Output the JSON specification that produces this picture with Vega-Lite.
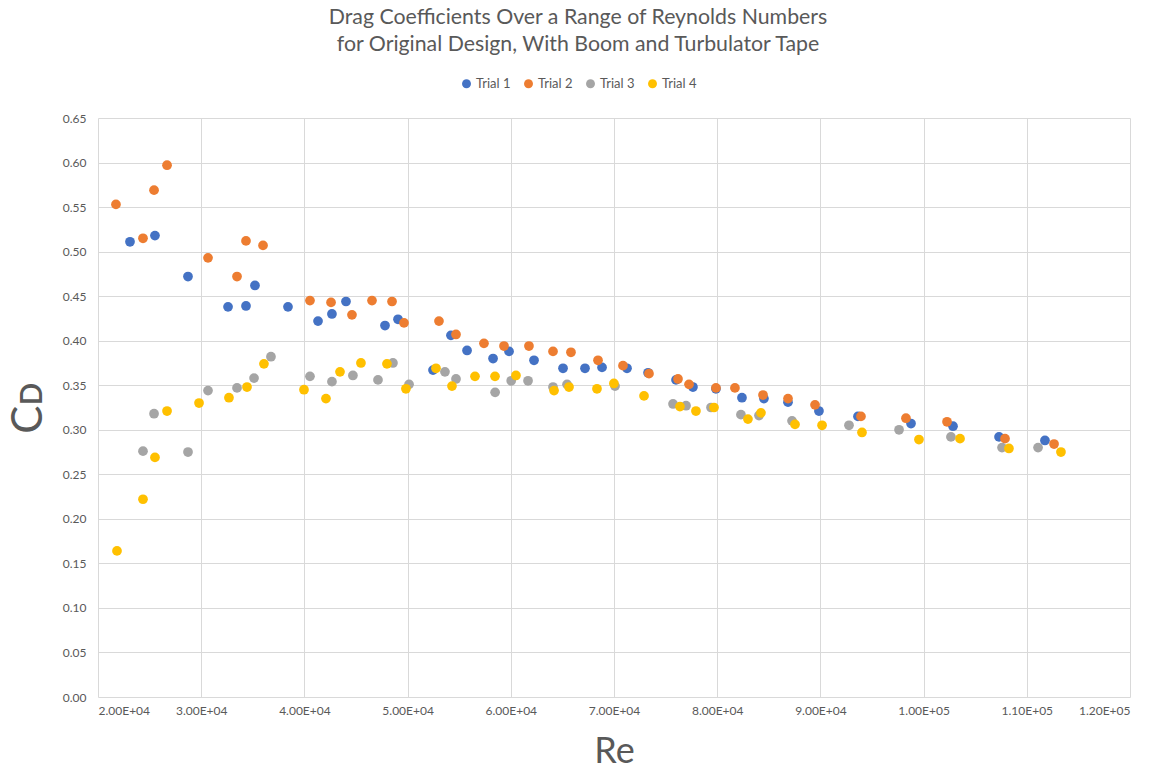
{
  "$schema": "https://vega.github.io/schema/vega-lite/v6.json",
  "width": 1032,
  "height": 579,
  "autosize": "none",
  "padding": {"left": 98, "top": 118, "right": 36, "bottom": 78},
  "background": "white",
  "title": {
    "text": ["Drag Coefficients Over a Range of Reynolds Numbers", "for Original Design, With Boom and Turbulator Tape"],
    "font": "Lato",
    "fontSize": 21.3,
    "fontWeight": "normal",
    "color": "#595959",
    "lineHeight": 27,
    "anchor": "middle",
    "dx": -36,
    "offset": 22
  },
  "config": {
    "view": {"stroke": null},
    "font": "Lato"
  },
  "data": {
    "values": [
      {"trial": "Trial 1", "re": 23100, "cd": 0.511},
      {"trial": "Trial 1", "re": 25520, "cd": 0.518},
      {"trial": "Trial 1", "re": 28720, "cd": 0.472},
      {"trial": "Trial 1", "re": 32600, "cd": 0.438},
      {"trial": "Trial 1", "re": 34340, "cd": 0.439},
      {"trial": "Trial 1", "re": 35210, "cd": 0.462},
      {"trial": "Trial 1", "re": 38410, "cd": 0.438},
      {"trial": "Trial 1", "re": 41320, "cd": 0.422},
      {"trial": "Trial 1", "re": 42670, "cd": 0.430},
      {"trial": "Trial 1", "re": 44030, "cd": 0.444},
      {"trial": "Trial 1", "re": 47810, "cd": 0.417},
      {"trial": "Trial 1", "re": 49070, "cd": 0.424},
      {"trial": "Trial 1", "re": 52460, "cd": 0.367},
      {"trial": "Trial 1", "re": 54200, "cd": 0.406},
      {"trial": "Trial 1", "re": 55760, "cd": 0.389},
      {"trial": "Trial 1", "re": 58280, "cd": 0.380},
      {"trial": "Trial 1", "re": 59830, "cd": 0.388},
      {"trial": "Trial 1", "re": 62250, "cd": 0.378},
      {"trial": "Trial 1", "re": 65060, "cd": 0.369},
      {"trial": "Trial 1", "re": 67190, "cd": 0.369},
      {"trial": "Trial 1", "re": 68840, "cd": 0.370},
      {"trial": "Trial 1", "re": 71260, "cd": 0.369},
      {"trial": "Trial 1", "re": 73300, "cd": 0.364},
      {"trial": "Trial 1", "re": 76010, "cd": 0.356},
      {"trial": "Trial 1", "re": 77650, "cd": 0.348},
      {"trial": "Trial 1", "re": 79880, "cd": 0.346},
      {"trial": "Trial 1", "re": 82400, "cd": 0.336},
      {"trial": "Trial 1", "re": 84530, "cd": 0.335},
      {"trial": "Trial 1", "re": 86860, "cd": 0.331},
      {"trial": "Trial 1", "re": 89860, "cd": 0.321},
      {"trial": "Trial 1", "re": 93640, "cd": 0.315},
      {"trial": "Trial 1", "re": 98780, "cd": 0.307},
      {"trial": "Trial 1", "re": 102850, "cd": 0.304},
      {"trial": "Trial 1", "re": 107310, "cd": 0.292},
      {"trial": "Trial 1", "re": 111760, "cd": 0.288},
      {"trial": "Trial 2", "re": 21740, "cd": 0.553},
      {"trial": "Trial 2", "re": 24360, "cd": 0.515},
      {"trial": "Trial 2", "re": 25430, "cd": 0.569},
      {"trial": "Trial 2", "re": 26690, "cd": 0.597},
      {"trial": "Trial 2", "re": 30660, "cd": 0.493},
      {"trial": "Trial 2", "re": 33470, "cd": 0.472},
      {"trial": "Trial 2", "re": 34340, "cd": 0.512},
      {"trial": "Trial 2", "re": 35990, "cd": 0.507},
      {"trial": "Trial 2", "re": 40540, "cd": 0.445},
      {"trial": "Trial 2", "re": 42580, "cd": 0.443},
      {"trial": "Trial 2", "re": 44610, "cd": 0.429},
      {"trial": "Trial 2", "re": 46550, "cd": 0.445},
      {"trial": "Trial 2", "re": 48490, "cd": 0.444},
      {"trial": "Trial 2", "re": 49650, "cd": 0.420},
      {"trial": "Trial 2", "re": 53040, "cd": 0.422},
      {"trial": "Trial 2", "re": 54690, "cd": 0.407},
      {"trial": "Trial 2", "re": 57400, "cd": 0.397},
      {"trial": "Trial 2", "re": 59340, "cd": 0.394},
      {"trial": "Trial 2", "re": 61760, "cd": 0.394},
      {"trial": "Trial 2", "re": 64090, "cd": 0.388},
      {"trial": "Trial 2", "re": 65830, "cd": 0.387},
      {"trial": "Trial 2", "re": 68450, "cd": 0.378},
      {"trial": "Trial 2", "re": 70870, "cd": 0.372},
      {"trial": "Trial 2", "re": 73390, "cd": 0.363},
      {"trial": "Trial 2", "re": 76200, "cd": 0.357},
      {"trial": "Trial 2", "re": 77270, "cd": 0.351},
      {"trial": "Trial 2", "re": 79880, "cd": 0.347},
      {"trial": "Trial 2", "re": 81720, "cd": 0.347},
      {"trial": "Trial 2", "re": 84440, "cd": 0.339},
      {"trial": "Trial 2", "re": 86860, "cd": 0.335},
      {"trial": "Trial 2", "re": 89480, "cd": 0.328},
      {"trial": "Trial 2", "re": 93930, "cd": 0.315},
      {"trial": "Trial 2", "re": 98290, "cd": 0.313},
      {"trial": "Trial 2", "re": 102270, "cd": 0.309},
      {"trial": "Trial 2", "re": 107890, "cd": 0.290},
      {"trial": "Trial 2", "re": 112640, "cd": 0.284},
      {"trial": "Trial 3", "re": 24360, "cd": 0.276},
      {"trial": "Trial 3", "re": 25430, "cd": 0.318},
      {"trial": "Trial 3", "re": 28720, "cd": 0.275},
      {"trial": "Trial 3", "re": 30660, "cd": 0.344},
      {"trial": "Trial 3", "re": 33470, "cd": 0.347},
      {"trial": "Trial 3", "re": 35120, "cd": 0.358},
      {"trial": "Trial 3", "re": 36760, "cd": 0.382},
      {"trial": "Trial 3", "re": 40540, "cd": 0.360},
      {"trial": "Trial 3", "re": 42670, "cd": 0.354},
      {"trial": "Trial 3", "re": 44700, "cd": 0.361},
      {"trial": "Trial 3", "re": 47130, "cd": 0.356},
      {"trial": "Trial 3", "re": 48580, "cd": 0.375},
      {"trial": "Trial 3", "re": 50140, "cd": 0.351},
      {"trial": "Trial 3", "re": 53620, "cd": 0.365},
      {"trial": "Trial 3", "re": 54690, "cd": 0.357},
      {"trial": "Trial 3", "re": 58480, "cd": 0.342},
      {"trial": "Trial 3", "re": 60040, "cd": 0.355},
      {"trial": "Trial 3", "re": 61670, "cd": 0.355},
      {"trial": "Trial 3", "re": 64090, "cd": 0.348},
      {"trial": "Trial 3", "re": 65450, "cd": 0.351},
      {"trial": "Trial 3", "re": 70100, "cd": 0.349},
      {"trial": "Trial 3", "re": 75720, "cd": 0.329},
      {"trial": "Trial 3", "re": 76980, "cd": 0.327},
      {"trial": "Trial 3", "re": 79400, "cd": 0.325},
      {"trial": "Trial 3", "re": 82300, "cd": 0.317},
      {"trial": "Trial 3", "re": 84050, "cd": 0.316},
      {"trial": "Trial 3", "re": 87250, "cd": 0.310},
      {"trial": "Trial 3", "re": 92770, "cd": 0.305},
      {"trial": "Trial 3", "re": 97620, "cd": 0.300},
      {"trial": "Trial 3", "re": 102650, "cd": 0.292},
      {"trial": "Trial 3", "re": 107600, "cd": 0.280},
      {"trial": "Trial 3", "re": 111090, "cd": 0.280},
      {"trial": "Trial 4", "re": 21840, "cd": 0.164},
      {"trial": "Trial 4", "re": 24360, "cd": 0.222},
      {"trial": "Trial 4", "re": 25520, "cd": 0.269},
      {"trial": "Trial 4", "re": 26690, "cd": 0.321},
      {"trial": "Trial 4", "re": 29790, "cd": 0.330},
      {"trial": "Trial 4", "re": 32690, "cd": 0.336},
      {"trial": "Trial 4", "re": 34440, "cd": 0.348},
      {"trial": "Trial 4", "re": 36080, "cd": 0.374},
      {"trial": "Trial 4", "re": 39960, "cd": 0.345},
      {"trial": "Trial 4", "re": 42090, "cd": 0.335},
      {"trial": "Trial 4", "re": 43450, "cd": 0.365},
      {"trial": "Trial 4", "re": 45480, "cd": 0.375},
      {"trial": "Trial 4", "re": 48000, "cd": 0.374},
      {"trial": "Trial 4", "re": 49840, "cd": 0.346},
      {"trial": "Trial 4", "re": 52750, "cd": 0.369},
      {"trial": "Trial 4", "re": 54300, "cd": 0.349},
      {"trial": "Trial 4", "re": 56530, "cd": 0.360},
      {"trial": "Trial 4", "re": 58470, "cd": 0.360},
      {"trial": "Trial 4", "re": 60500, "cd": 0.361},
      {"trial": "Trial 4", "re": 64190, "cd": 0.344},
      {"trial": "Trial 4", "re": 65640, "cd": 0.348},
      {"trial": "Trial 4", "re": 68350, "cd": 0.346},
      {"trial": "Trial 4", "re": 69990, "cd": 0.352},
      {"trial": "Trial 4", "re": 72910, "cd": 0.338},
      {"trial": "Trial 4", "re": 76390, "cd": 0.326},
      {"trial": "Trial 4", "re": 77940, "cd": 0.321},
      {"trial": "Trial 4", "re": 79690, "cd": 0.325},
      {"trial": "Trial 4", "re": 82980, "cd": 0.312},
      {"trial": "Trial 4", "re": 84240, "cd": 0.319},
      {"trial": "Trial 4", "re": 87540, "cd": 0.306},
      {"trial": "Trial 4", "re": 90160, "cd": 0.305},
      {"trial": "Trial 4", "re": 94030, "cd": 0.297},
      {"trial": "Trial 4", "re": 99550, "cd": 0.289},
      {"trial": "Trial 4", "re": 103530, "cd": 0.290},
      {"trial": "Trial 4", "re": 108270, "cd": 0.279},
      {"trial": "Trial 4", "re": 113310, "cd": 0.275}
    ]
  },
  "mark": {"type": "circle", "size": 95, "opacity": 1},
  "encoding": {
    "x": {
      "field": "re",
      "type": "quantitative",
      "scale": {"domain": [20000, 120000], "nice": false, "zero": false},
      "axis": {
        "values": [20000, 30000, 40000, 50000, 60000, 70000, 80000, 90000, 100000, 110000, 120000],
        "labelExpr": "replace(format(datum.value, '.2e'), 'e+', 'E+0')",
        "title": "Re",
        "titleFont": "Lato",
        "titleFontSize": 36,
        "titleFontWeight": "normal",
        "titleColor": "#595959",
        "titlePadding": 18,
        "labelFont": "Lato",
        "labelFontSize": 12,
        "labelColor": "#595959",
        "labelPadding": 8,
        "grid": true,
        "gridColor": "#d9d9d9",
        "gridWidth": 1,
        "domain": false,
        "ticks": false
      }
    },
    "y": {
      "field": "cd",
      "type": "quantitative",
      "scale": {"domain": [0, 0.65], "nice": false},
      "axis": {
        "values": [0, 0.05, 0.1, 0.15, 0.2, 0.25, 0.3, 0.35, 0.4, 0.45, 0.5, 0.55, 0.6, 0.65],
        "format": ".2f",
        "title": "Cᴅ",
        "titleFont": "Lato",
        "titleFontSize": 42,
        "titleFontWeight": "normal",
        "titleColor": "#595959",
        "titlePadding": 12,
        "labelFont": "Lato",
        "labelFontSize": 12,
        "labelColor": "#595959",
        "labelPadding": 12,
        "grid": true,
        "gridColor": "#d9d9d9",
        "gridWidth": 1,
        "domain": false,
        "ticks": false
      }
    },
    "color": {
      "field": "trial",
      "type": "nominal",
      "scale": {
        "domain": ["Trial 1", "Trial 2", "Trial 3", "Trial 4"],
        "range": ["#4472C4", "#ED7D31", "#A5A5A5", "#FFC000"]
      },
      "legend": {
        "title": null,
        "orient": "none",
        "direction": "horizontal",
        "legendX": 362,
        "legendY": -41,
        "symbolType": "circle",
        "symbolSize": 80,
        "symbolOpacity": 1,
        "labelFont": "Lato",
        "labelFontSize": 13,
        "labelColor": "#595959",
        "labelOffset": 3,
        "columnPadding": 11
      }
    }
  }
}
